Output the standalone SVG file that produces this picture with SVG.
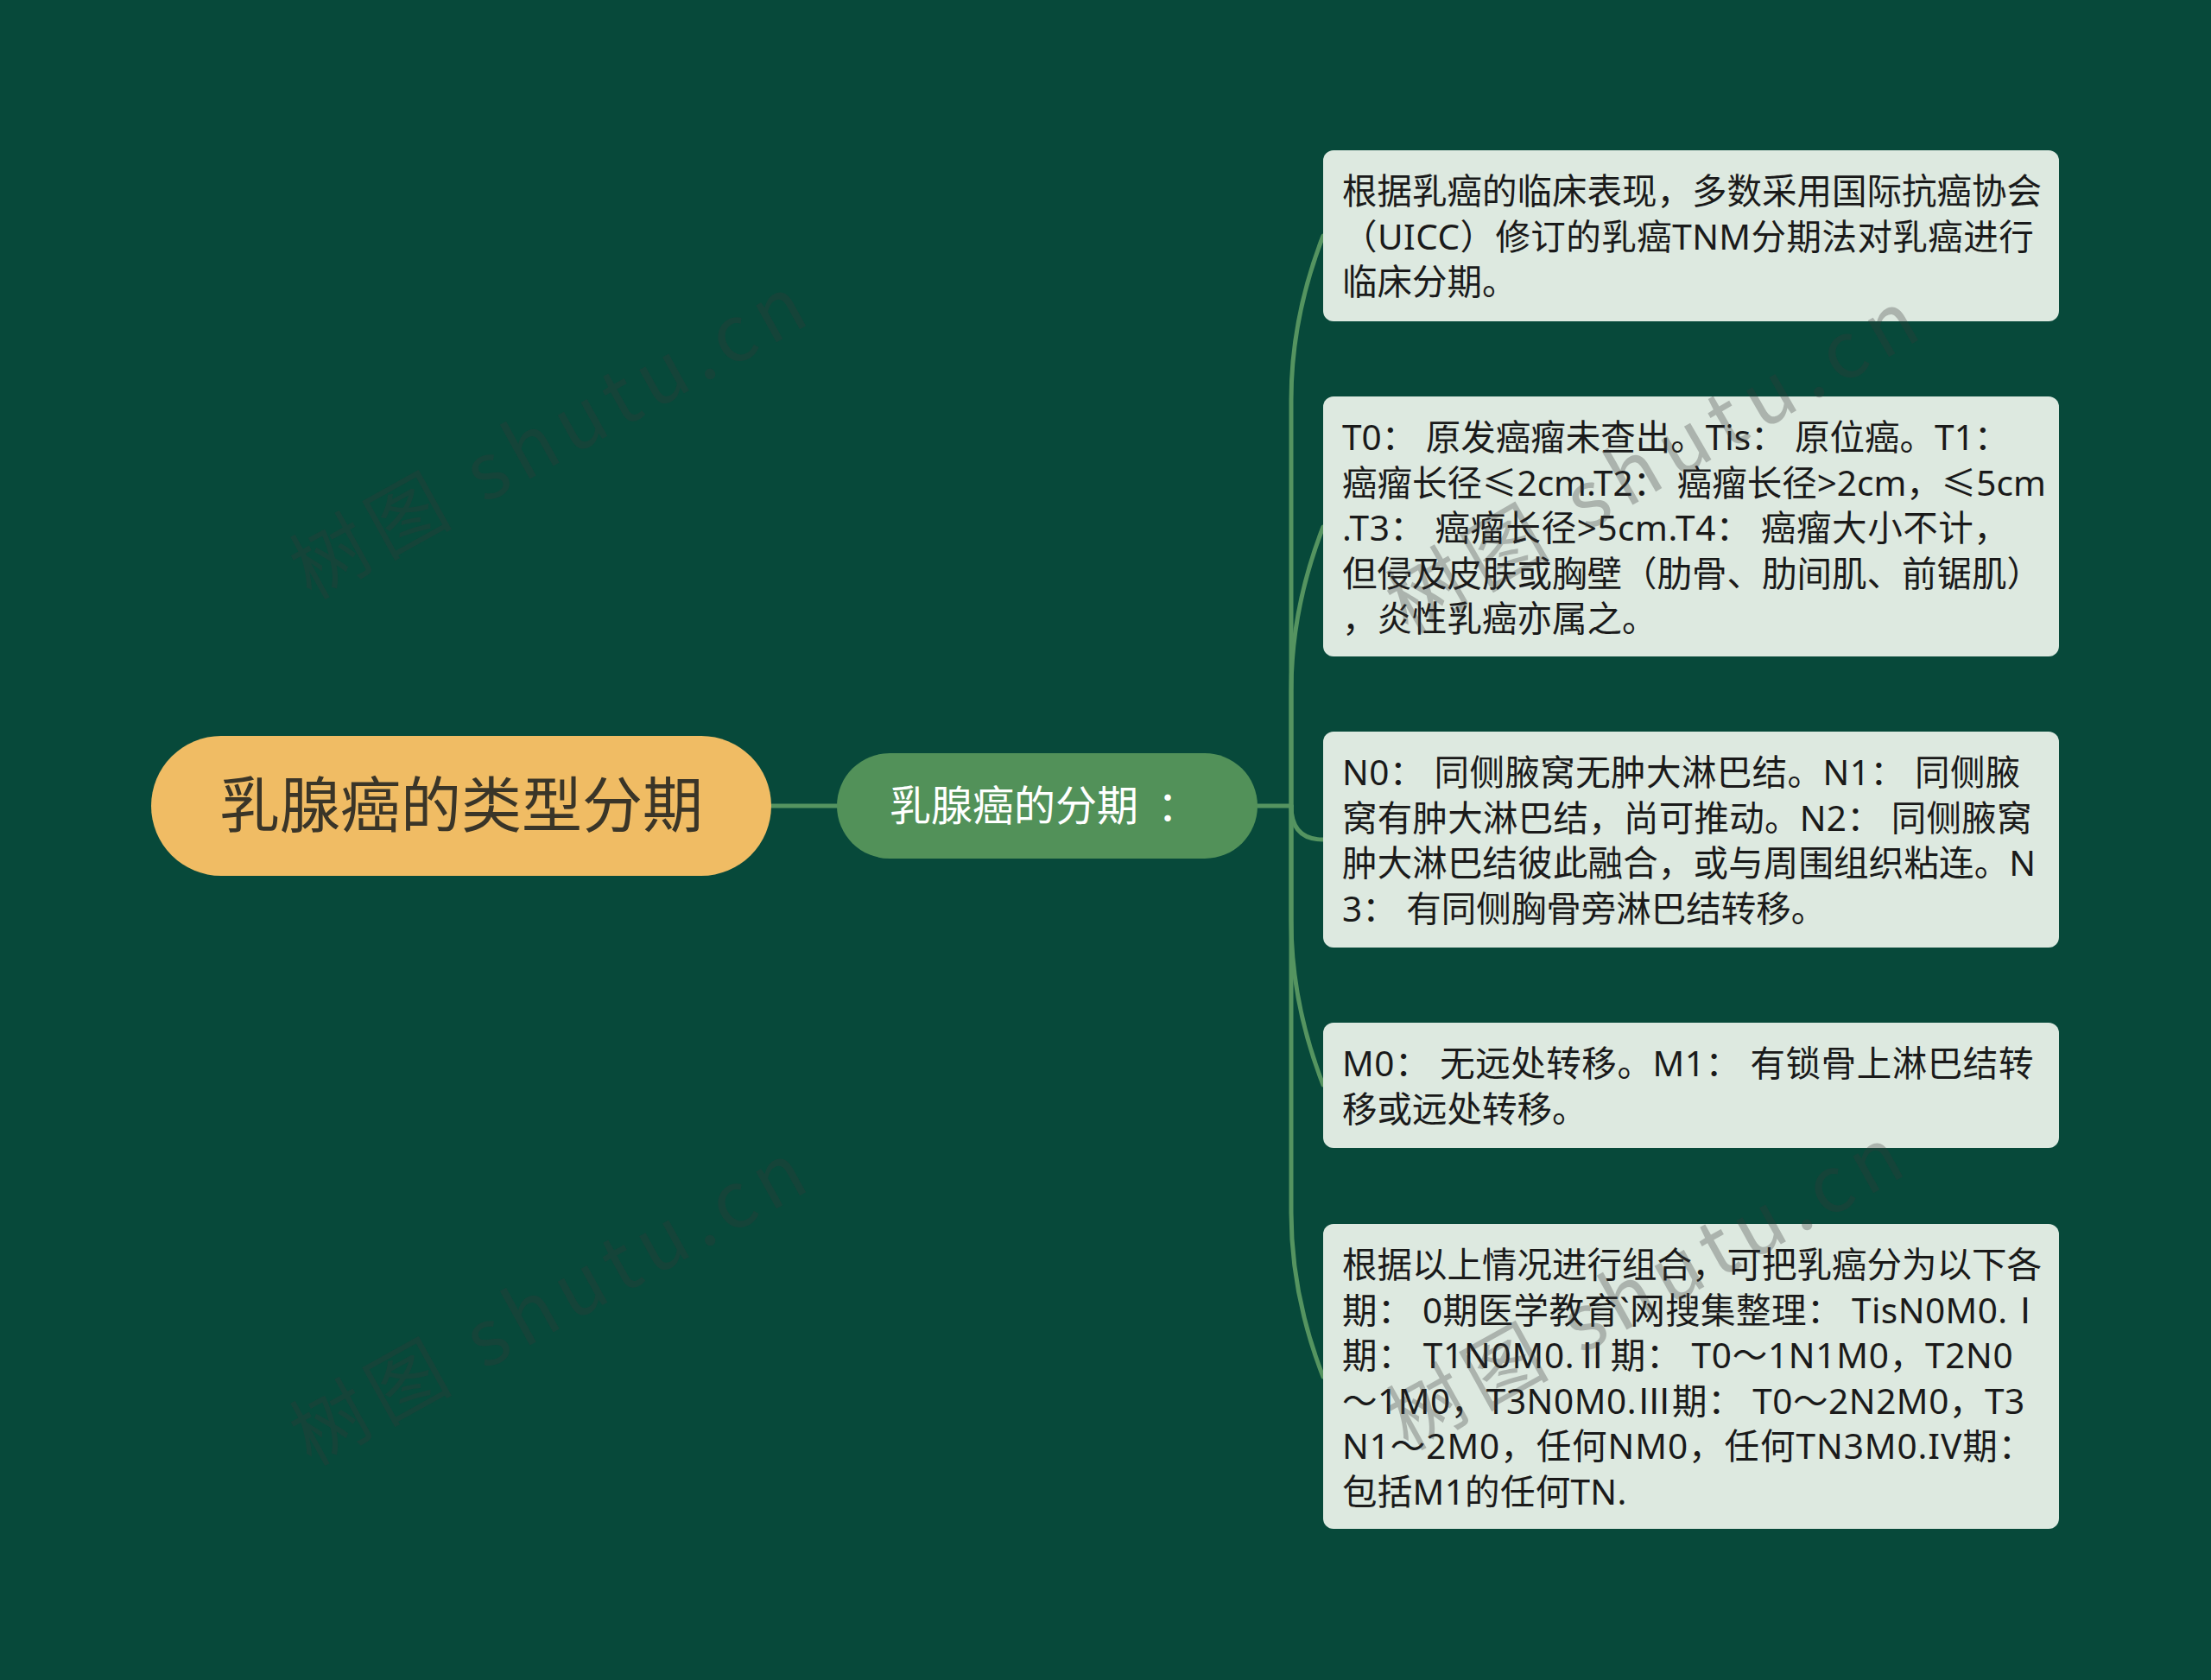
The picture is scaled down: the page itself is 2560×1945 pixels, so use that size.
<svg xmlns="http://www.w3.org/2000/svg" width="2560" height="1945" viewBox="0 0 2560 1945">
<style>
.bg{fill:#07493a}
.conn{fill:none;stroke:#559460;stroke-width:5;stroke-linecap:round}
.root-shape{fill:#f0bc64}
.root-text{font-family:"Noto Sans CJK SC","Noto Sans",sans-serif;font-size:70px;fill:#3a3528}
.sub-shape{fill:#529159}
.sub-text{font-family:"Noto Sans CJK SC","Noto Sans",sans-serif;font-size:48px;fill:#ffffff}
.leaf-shape{fill:#dde9e0}
.leaf-text{font-family:"Noto Sans","Noto Sans CJK SC",sans-serif;font-size:40.5px;fill:#1a1a1a}
.wm{font-family:"Noto Sans CJK SC","Noto Sans",sans-serif;font-size:90px;fill:#393939;fill-opacity:0.3}
</style>
<rect class="bg" x="0" y="0" width="2560" height="1945"/>
<g id="connectors">
<path class="conn" d="M893 933 H969"/>
<path class="conn" d="M1456 933 H1495"/>
<path class="conn" d="M1495 933 V463 Q1495 368 1532 273"/>
<path class="conn" d="M1495 933 V800 Q1495 705 1532 610"/>
<path class="conn" d="M1495 933 Q1495 972 1532 972"/>
<path class="conn" d="M1495 933 V1066 Q1495 1161 1532 1256"/>
<path class="conn" d="M1495 933 V1404 Q1495 1499 1532 1594"/>
</g>
<g id="root">
<rect class="root-shape" x="175" y="852" width="718" height="162" rx="81"/>
<text class="root-text" x="534" y="958" text-anchor="middle">乳腺癌的类型分期</text>
</g>
<g id="sub">
<rect class="sub-shape" x="969" y="872" width="487" height="122" rx="61"/>
<text class="sub-text" x="1030" y="950">乳腺癌的分期<tspan dx="22">：</tspan></text>
</g>
<g id="leaf1">
<rect class="leaf-shape" x="1532" y="174" width="852" height="198" rx="12"/>
<text class="leaf-text">
<tspan x="1554" y="236">根据乳癌的临床表现，多数采用国际抗癌协会</tspan>
<tspan x="1554" y="288.5" letter-spacing="0.45">（UICC）修订的乳癌TNM分期法对乳癌进行</tspan>
<tspan x="1554" y="341">临床分期。</tspan>
</text>
</g>
<g id="leaf2">
<rect class="leaf-shape" x="1532" y="459" width="852" height="301" rx="12"/>
<text class="leaf-text">
<tspan x="1554" y="521">T0： 原发癌瘤未查出。Tis： 原位癌。T1：</tspan>
<tspan x="1554" y="573.5">癌瘤长径≤2cm.T2： 癌瘤长径&gt;2cm，≤5cm</tspan>
<tspan x="1554" y="626" letter-spacing="0.55">.T3： 癌瘤长径&gt;5cm.T4： 癌瘤大小不计，</tspan>
<tspan x="1554" y="678.5">但侵及皮肤或胸壁（肋骨、肋间肌、前锯肌）</tspan>
<tspan x="1554" y="731">，炎性乳癌亦属之。</tspan>
</text>
</g>
<g id="leaf3">
<rect class="leaf-shape" x="1532" y="847" width="852" height="250" rx="12"/>
<text class="leaf-text">
<tspan x="1554" y="909" letter-spacing="0.4">N0： 同侧腋窝无肿大淋巴结。N1： 同侧腋</tspan>
<tspan x="1554" y="961.5" letter-spacing="0.25">窝有肿大淋巴结，尚可推动。N2： 同侧腋窝</tspan>
<tspan x="1554" y="1014" letter-spacing="0.15">肿大淋巴结彼此融合，或与周围组织粘连。N</tspan>
<tspan x="1554" y="1066.5">3： 有同侧胸骨旁淋巴结转移。</tspan>
</text>
</g>
<g id="leaf4">
<rect class="leaf-shape" x="1532" y="1184" width="852" height="145" rx="12"/>
<text class="leaf-text">
<tspan x="1554" y="1246" letter-spacing="0.55">M0： 无远处转移。M1： 有锁骨上淋巴结转</tspan>
<tspan x="1554" y="1298.5">移或远处转移。</tspan>
</text>
</g>
<g id="leaf5">
<rect class="leaf-shape" x="1532" y="1417" width="852" height="353" rx="12"/>
<text class="leaf-text">
<tspan x="1554" y="1479">根据以上情况进行组合，可把乳癌分为以下各</tspan>
<tspan x="1554" y="1531.5" letter-spacing="0.46">期： 0期医学教育`网搜集整理： TisN0M0.Ⅰ</tspan>
<tspan x="1554" y="1584" letter-spacing="0.75">期： T1N0M0.Ⅱ期： T0～1N1M0，T2N0</tspan>
<tspan x="1554" y="1636.5" letter-spacing="0.55">～1M0，T3N0M0.Ⅲ期： T0～2N2M0，T3</tspan>
<tspan x="1554" y="1689" letter-spacing="0.95">N1～2M0，任何NM0，任何TN3M0.IV期：</tspan>
<tspan x="1554" y="1741.5" letter-spacing="0.3">包括M1的任何TN.</tspan>
</text>
</g>
<g id="watermarks">
<text class="wm" transform="translate(360 695) rotate(-29)" textLength="663">树图 shutu.cn</text>
<text class="wm" transform="translate(360 1698) rotate(-29)" textLength="663">树图 shutu.cn</text>
<text class="wm" transform="translate(1630 735) rotate(-30)" textLength="690">树图 shutu.cn</text>
<text class="wm" transform="translate(1630 1680) rotate(-29)" textLength="663">树图 shutu.cn</text>
</g>
</svg>
